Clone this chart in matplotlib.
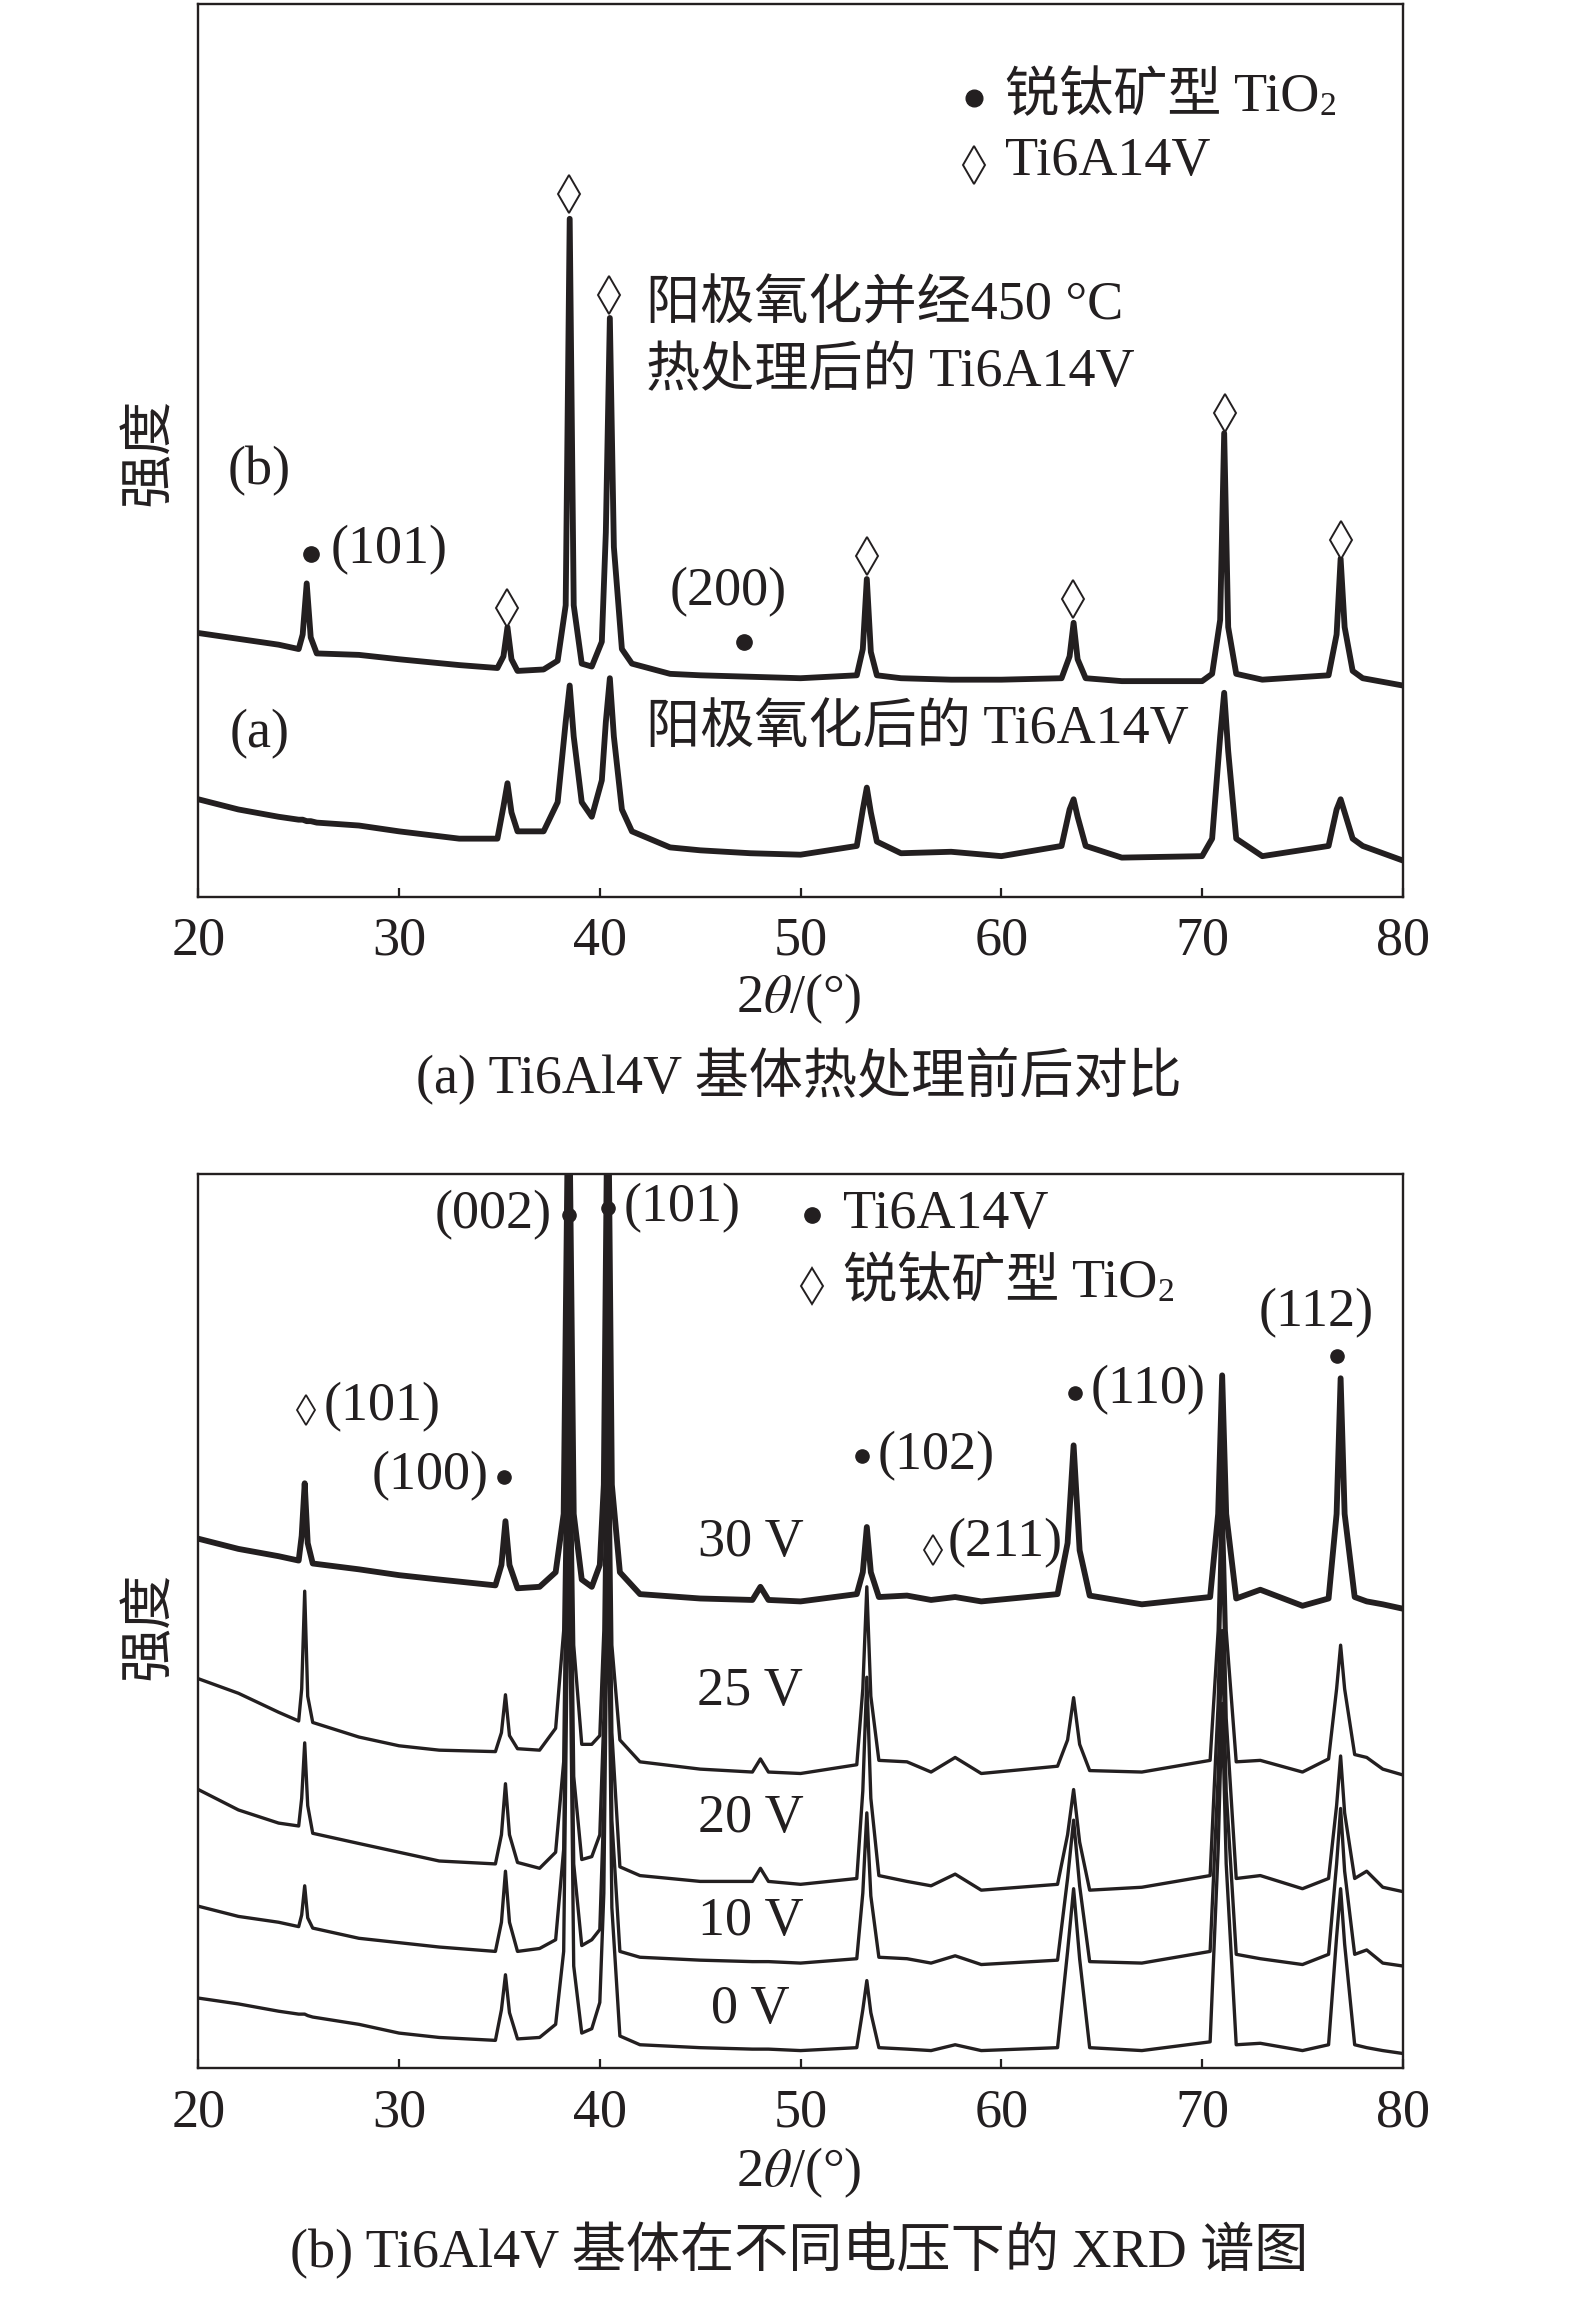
import matplotlib
matplotlib.use("Agg")
import matplotlib.pyplot as plt

plt.rcParams["font.family"] = ["Liberation Serif", "Noto Sans CJK SC"]
plt.rcParams["mathtext.fontset"] = "stix"

INK = "#231f20"
FS = 39

# ---------------- (a) top panel data: 2theta and intensity (a.u.) ----------------
top_x = [20, 22, 24, 25.0, 25.2, 25.4, 25.6, 25.9, 28, 30,
         33, 34.9, 35.2, 35.4, 35.6, 35.9, 37.2, 37.9, 38.3, 38.5,
         38.7, 39.1, 39.6, 40.1, 40.3, 40.5, 40.7, 41.1, 41.6, 43.5,
         45, 47.5, 50, 52.8, 53.1, 53.3, 53.5, 53.8, 55, 57.5,
         60, 63.0, 63.4, 63.6, 63.8, 64.2, 66, 70, 70.5, 70.9,
         71.1, 71.3, 71.7, 73, 76.3, 76.7, 76.9, 77.1, 77.5, 78.0,
         80]

# anodized + 450 C heat treated
top_b = [181, 177, 173, 170, 180, 215, 178, 167, 166, 163,
         159, 157, 165, 185, 163, 155, 156, 162, 200, 465,
         200, 160, 158, 175, 250, 397, 240, 170, 160, 153,
         152, 151, 150, 152, 170, 218, 168, 152, 150, 149,
         149, 150, 165, 188, 163, 150, 148, 148, 153, 190,
         318, 185, 153, 149, 152, 180, 232, 185, 155, 150,
         145]

# anodized only
top_a = [67, 60, 55, 53, 53, 52, 52, 51, 49, 45,
         40, 40, 62, 78, 58, 45, 45, 65, 120, 145,
         110, 65, 55, 80, 120, 150, 110, 60, 45, 34,
         32, 30, 29, 35, 60, 75, 58, 38, 30, 31,
         28, 35, 60, 67, 55, 35, 27, 28, 40, 110,
         140, 100, 40, 28, 35, 60, 67, 58, 40, 35,
         25]

top_dot_x = [25.6, 47.2]
top_dot_y = [235, 175]
top_dia_x = [38.45, 40.48, 35.4, 53.33, 63.57, 71.13, 76.94]
top_dia_y = [482, 413, 198, 234, 204, 332, 245]

# ---------------- (b) bottom panel data ----------------
bot_x = [20, 22, 24, 25.0, 25.15, 25.3, 25.45, 25.7, 28, 30,
         32, 34.8, 35.1, 35.3, 35.5, 35.9, 37.0, 37.8, 38.2, 38.45,
         38.7, 39.1, 39.6, 40.0, 40.2, 40.4, 40.6, 41.0, 42, 45,
         47.6, 48.0, 48.4, 50, 52.8, 53.1, 53.3, 53.5, 53.9, 55.3,
         56.5, 57.7, 59, 62.8, 63.3, 63.6, 63.9, 64.4, 67, 70.4,
         70.8, 71.0, 71.2, 71.7, 72.9, 75, 76.3, 76.7, 76.9, 77.1,
         77.6, 78.2, 79, 80]

v30 = [363, 356, 351, 348, 365, 401, 360, 346, 342, 338,
       335, 331, 345, 375, 345, 329, 330, 340, 380, 700,
       380, 335, 330, 345, 400, 700, 400, 340, 325, 322,
       321, 330, 321, 320, 325, 340, 371, 340, 323, 324,
       321, 323, 320, 325, 360, 427, 355, 324, 318, 323,
       380, 475, 380, 322, 328, 317, 322, 380, 473, 380,
       323, 320, 318, 315]

v25 = [267, 257, 244, 238, 260, 327, 255, 237, 227, 221,
       218, 217, 230, 256, 228, 219, 218, 233, 300, 540,
       290, 222, 222, 228, 300, 530, 290, 225, 210, 205,
       203, 212, 203, 202, 208, 260, 330, 255, 211, 210,
       203, 213, 202, 207, 225, 254, 222, 204, 203, 211,
       300, 410, 300, 210, 211, 203, 212, 260, 290, 260,
       215, 213, 205, 201]

v20 = [191, 177, 168, 166, 185, 223, 180, 161, 154, 148,
       142, 140, 160, 195, 160, 141, 137, 148, 210, 490,
       200, 143, 145, 160, 240, 480, 230, 138, 132, 128,
       128, 137, 128, 126, 130, 190, 268, 185, 132, 128,
       125, 133, 122, 126, 160, 191, 155, 122, 124, 132,
       250, 370, 240, 130, 132, 123, 130, 180, 214, 175,
       130, 135, 124, 121]

v10 = [111, 104, 100, 97, 105, 125, 103, 96, 89, 86,
       83, 80, 100, 135, 100, 80, 82, 88, 150, 430,
       140, 84, 88, 95, 180, 420, 170, 80, 76, 74,
       73, 73, 73, 72, 75, 120, 175, 118, 76, 75,
       72, 77, 71, 74, 130, 170, 125, 73, 72, 80,
       200, 300, 190, 78, 75, 71, 78, 140, 178, 135,
       78, 81, 72, 70]

v0 = [48, 44, 39, 37, 37, 37, 36, 35, 30, 24,
      21, 19, 40, 64, 38, 20, 21, 30, 80, 380,
      70, 24, 27, 45, 120, 370, 110, 22, 16, 14,
      13, 13, 13, 12, 14, 40, 60, 38, 14, 13,
      12, 16, 12, 14, 80, 123, 75, 14, 12, 18,
      150, 250, 140, 16, 17, 12, 16, 90, 123, 85,
      16, 14, 12, 10]

volt_labels = ["30 V", "25 V", "20 V", "10 V", "0 V"]
volt_label_y = [360, 258, 171, 100, 40]

bot_dot_x = [38.45, 40.41, 35.25, 53.04, 63.65, 76.72]
bot_dot_y = [585, 590, 405, 420, 463, 488]
bot_dia_x = [25.37, 56.6]
bot_dia_y = [451, 355]


def style_axes(ax, ymax):
    ax.set_xlim(20, 80)
    ax.set_ylim(0, ymax)
    ax.set_xticks([20, 30, 40, 50, 60, 70, 80])
    ax.set_yticks([])
    ax.tick_params(axis="x", direction="in", length=6.5, width=1.6,
                   labelsize=FS, pad=14, colors=INK)
    for sp in ax.spines.values():
        sp.set_linewidth(1.7)
        sp.set_color(INK)


def sub_label(ax, x, y, main, sub):
    t = ax.text(x, y, main, fontsize=FS, ha="left", va="center", color=INK)
    ax.annotate(sub, xy=(1.0, 0.02), xycoords=t, fontsize=FS * 0.62,
                ha="left", va="bottom", color=INK)


fig = plt.figure(figsize=(15.75, 23.19), dpi=100)

# ---------------- top panel ----------------
ax1 = fig.add_axes([0.1259, 0.6132, 0.7648, 0.3849])
ax1.plot(top_x, top_b, color=INK, lw=4.2, solid_joinstyle="round")
ax1.plot(top_x, top_a, color=INK, lw=4.2, solid_joinstyle="round")
ax1.plot(top_dot_x, top_dot_y, "o", color=INK, ms=11, ls="none")
ax1.plot(top_dia_x, top_dia_y, "d", mfc="white", mec=INK, mew=1.4, ms=19, ls="none")
style_axes(ax1, 612)

# legend
ax1.plot([58.64], [548], "o", color=INK, ms=12)
sub_label(ax1, 60.2, 548, "锐钛矿型 TiO", "2")
ax1.plot([58.64], [502], "d", mfc="white", mec=INK, mew=1.4, ms=19)
ax1.text(60.2, 504, "Ti6A14V", fontsize=FS, ha="left", va="center", color=INK)

ax1.text(26.6, 238, "(101)", fontsize=FS, ha="left", va="center", color=INK)
ax1.text(46.4, 209, "(200)", fontsize=FS, ha="center", va="center", color=INK)
ax1.text(23.05, 292, "(b)", fontsize=FS, ha="center", va="center", color=INK)
ax1.text(23.05, 112, "(a)", fontsize=FS, ha="center", va="center", color=INK)
ax1.text(42.3, 405, "阳极氧化并经450 °C", fontsize=FS, ha="left", va="center", color=INK)
ax1.text(42.3, 359, "热处理后的 Ti6A14V", fontsize=FS, ha="left", va="center", color=INK)
ax1.text(42.3, 115, "阳极氧化后的 Ti6A14V", fontsize=FS, ha="left", va="center", color=INK)

# ---------------- bottom panel ----------------
ax2 = fig.add_axes([0.1259, 0.1082, 0.7648, 0.3855])
ax2.plot(bot_x, v30, color=INK, lw=4.2, solid_joinstyle="round")
for ys in [v25, v20, v10, v0]:
    ax2.plot(bot_x, ys, color=INK, lw=2.4)
ax2.plot(bot_dot_x, bot_dot_y, "o", color=INK, ms=9.5, ls="none")
ax2.plot(bot_dia_x, bot_dia_y, "d", mfc="white", mec=INK, mew=1.3, ms=15, ls="none")
style_axes(ax2, 613)

for lab, yy in zip(volt_labels, volt_label_y):
    ax2.text(47.5, yy, lab, fontsize=FS, ha="center", va="center", color=INK)

ax2.plot([50.57], [585], "o", color=INK, ms=11)
ax2.text(52.1, 585, "Ti6A14V", fontsize=FS, ha="left", va="center", color=INK)
ax2.plot([50.57], [536], "d", mfc="white", mec=INK, mew=1.4, ms=18)
sub_label(ax2, 52.1, 538, "锐钛矿型 TiO", "2")

ax2.text(37.6, 585, "(002)", fontsize=FS, ha="right", va="center", color=INK)
ax2.text(41.2, 590, "(101)", fontsize=FS, ha="left", va="center", color=INK)
ax2.text(75.7, 518, "(112)", fontsize=FS, ha="center", va="center", color=INK)
ax2.text(64.45, 465, "(110)", fontsize=FS, ha="left", va="center", color=INK)
ax2.text(53.84, 420, "(102)", fontsize=FS, ha="left", va="center", color=INK)
ax2.text(57.33, 360, "(211)", fontsize=FS, ha="left", va="center", color=INK)
ax2.text(26.25, 453, "(101)", fontsize=FS, ha="left", va="center", color=INK)
ax2.text(31.55, 406, "(100)", fontsize=FS, ha="center", va="center", color=INK)

# ---------------- figure-level labels ----------------
for yl in [0.805, 0.2987]:
    fig.text(0.0954, yl, "强度", fontsize=FS, rotation=90, ha="center", va="center", color=INK)
for yx in [0.5692, 0.0629]:
    fig.text(0.5074, yx, r"2$\theta$/(°)", fontsize=FS, ha="center", va="center", color=INK)
fig.text(0.5074, 0.5358, "(a) Ti6Al4V 基体热处理前后对比", fontsize=FS,
         ha="center", va="center", color=INK)
fig.text(0.5074, 0.0296, "(b) Ti6Al4V 基体在不同电压下的 XRD 谱图", fontsize=FS,
         ha="center", va="center", color=INK)

fig.savefig("out.png", dpi=100, facecolor="white")
